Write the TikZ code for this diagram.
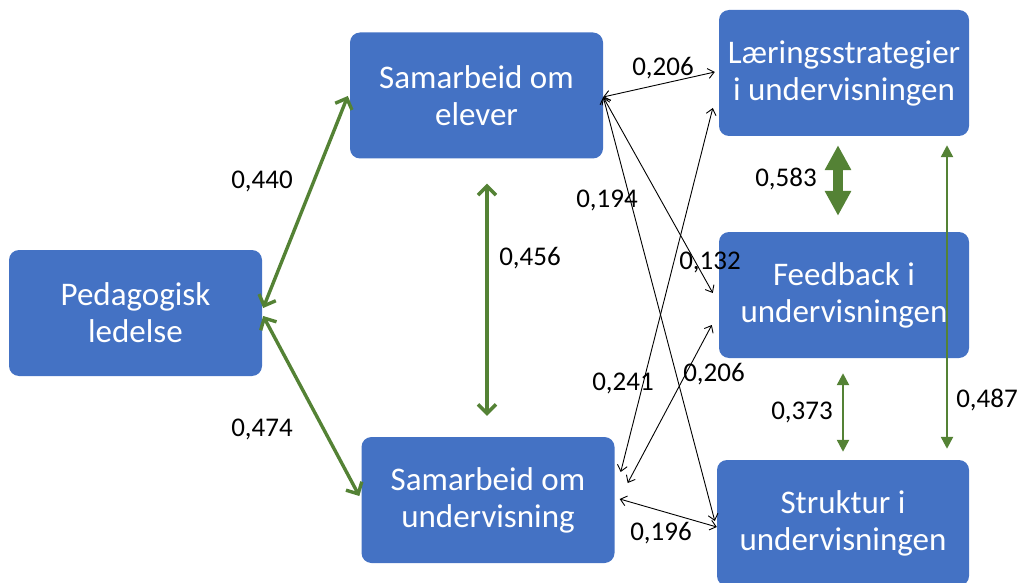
\documentclass[tikz,border=0pt]{standalone}
\usepackage{fontspec}
\setmainfont{Carlito}
\usetikzlibrary{arrows.meta,calc}
\definecolor{boxblue}{HTML}{4472C4}
\definecolor{grn}{HTML}{548235}
\begin{document}
\begin{tikzpicture}[x=1pt,y=-1pt,
  box/.style={fill=boxblue, rounded corners=10pt, minimum width=253pt, minimum height=126pt,
    inner sep=0pt, text=white, font=\fontsize{33}{37}\selectfont, align=center},
  lbl/.style={font=\fontsize{27}{30}\selectfont, inner sep=0pt, text=black},
  blk/.style={draw=black, line width=0.9pt,
    {Straight Barb[length=6pt,width=10pt]}-{Straight Barb[length=6pt,width=10pt]}},
  gbarb/.style={draw=grn, line width=3.4pt,
    {Straight Barb[length=9pt,width=18pt]}-{Straight Barb[length=9pt,width=18pt]}},
  gtri/.style={draw=grn, line width=2.4pt,
    {Triangle[length=12pt,width=12pt]}-{Triangle[length=12pt,width=12pt]}},
  gblock/.style={draw=grn, line width=10pt,
    {Triangle[length=25pt,width=25pt]}-{Triangle[length=25pt,width=25pt]}}
]
\useasboundingbox (0,0) rectangle (1018,583);

\node[box] (ped) at (135.5,313) {Pedagogisk\\ledelse};
\node[box] (elever) at (476.5,95.5) {Samarbeid om\\elever};
\node[box] (underv) at (488,500) {Samarbeid om\\undervisning};
\node[box, minimum width=250pt] (laer) at (844,73) {Læringsstrategier\\i undervisningen};
\node[box, minimum width=250pt] (feed) at (844,295) {Feedback i\\undervisningen};
\node[box, minimum width=252pt] (strukt) at (843,523) {Struktur i\\undervisningen};

% green connectors
\draw[gbarb] ($(ped.east)+(1,-5)$) -- ($(elever.west)+(-2,0.5)$);
\draw[gbarb] ($(ped.east)+(1,3)$) -- ($(underv.west)+(-2,-4)$);
\draw[gbarb] ($(elever.south)+(10.5,25)$) -- ($(underv.north)+(-1,-21)$);
\draw[gblock] ($(laer.south)+(-6,9)$) -- ($(feed.north)+(-6,-16)$);
\draw[gtri] ($(feed.south)+(-1,15)$) -- ($(strukt.north)+(0,-8)$);
\draw[gtri] ($(laer.south)+(103,9)$) -- ($(strukt.north)+(104,-11)$);

% black connectors
\coordinate (ep) at ($(elever.east)+(0,1.5)$);
\draw[blk] (ep) -- ($(laer.west)+(-4,-1)$);
\draw[blk] (ep) -- ($(feed.west)+(-6,-2)$);
\draw[blk] (ep) -- ($(strukt.west)+(-2,-2)$);
\draw[blk] ($(laer.west)+(-6,35)$) -- ($(underv.east)+(6,-28)$);
\draw[blk] ($(feed.west)+(-7,30)$) -- ($(underv.east)+(13,-17)$);
\draw[blk] ($(underv.east)+(5,-1)$) -- ($(strukt.west)+(0,4)$);

% labels
\node[lbl] (l1) at (262,181) {0,440};
\node[lbl] (l2) at (262,429) {0,474};
\node[lbl] (l3) at (530,258) {0,456};
\node[lbl] (l4) at (663,68) {0,206};
\node[lbl] (l5) at (607,200) {0,194};
\node[lbl] (l6) at (710,262) {0,132};
\node[lbl] (l7) at (623,383) {0,241};
\node[lbl] (l8) at (714,374) {0,206};
\node[lbl] (l9) at (786,179) {0,583};
\node[lbl] (l10) at (802,412) {0,373};
\node[lbl] (l11) at (987,400) {0,487};
\node[lbl] (l12) at (661,533) {0,196};
\end{tikzpicture}
\end{document}
